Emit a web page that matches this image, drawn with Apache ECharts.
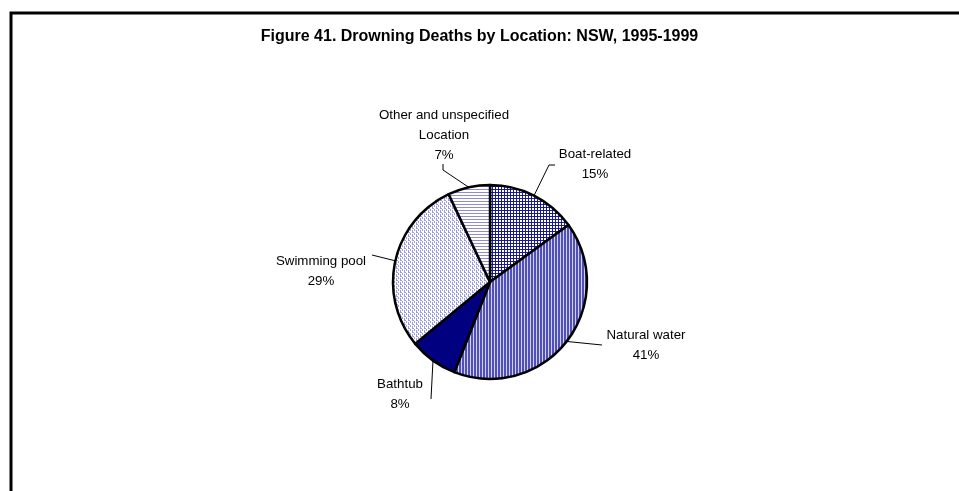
<!DOCTYPE html>
<html>
<head>
<meta charset="utf-8">
<script src="https://cdn.jsdelivr.net/npm/echarts@6/dist/echarts.min.js"></script>
<style>
  html, body { margin: 0; padding: 0; background: #fff; }
  #chart { width: 959px; height: 491px; }
</style>
</head>
<body>
<div id="chart"></div>
<script>
var titleText = 'Figure 41. Drowning Deaths by Location: NSW, 1995-1999';
var locations = ['Boat-related', 'Natural water', 'Bathtub', 'Swimming pool', 'Other and unspecified\nLocation'];
var shares = [15, 41, 8, 29, 7];

// where each label block sits and how its leader bends (pixels)
var labelSpots = [
    { x: 595, y: 164, bend: [549, 165], end: [555, 165] },
    { x: 646, y: 345, bend: [602, 345], end: [602, 345] },
    { x: 400, y: 394, bend: [431, 399], end: [431, 399] },
    { x: 321, y: 271, bend: [372, 255], end: [372, 255] },
    { x: 444, y: 135, bend: [443, 170], end: [443, 164] }
];

// little repeating tiles to imitate the old Excel fill patterns
function makeTile(w, h, draw) {
    var c = document.createElement('canvas');
    c.width = w; c.height = h;
    var ctx = c.getContext('2d');
    draw(ctx);
    return c;
}
function px(ctx, col, x, y, w, h) {
    ctx.fillStyle = col;
    ctx.fillRect(x, y, w || 1, h || 1);
}

var fills = [
    // boat: navy grid with white holes
    makeTile(3, 3, function (ctx) {
        px(ctx, '#fff', 0, 0, 3, 3);
        px(ctx, '#1a1a90', 0, 0, 3, 1);
        px(ctx, '#1a1a90', 0, 0, 1, 3);
    }),
    // natural water: vertical stripes
    makeTile(3, 1, function (ctx) {
        px(ctx, '#5050b8', 0, 0, 2, 1);
        px(ctx, '#d0d0f0', 2, 0);
    }),
    '#000080',
    // swimming pool: light weave
    makeTile(4, 4, function (ctx) {
        px(ctx, '#fff', 0, 0, 4, 4);
        px(ctx, '#9a9ae0', 0, 0, 2, 1);
        px(ctx, '#9a9ae0', 2, 1, 1, 2);
        px(ctx, '#9a9ae0', 0, 2, 1, 2);
    }),
    // other: horizontal thin lines
    makeTile(1, 3, function (ctx) {
        px(ctx, '#fff', 0, 0, 1, 3);
        px(ctx, '#8c8cd8', 0, 0);
    })
];

var pieData = locations.map(function (name, i) {
    var img = fills[i];
    return {
        name: name,
        value: shares[i],
        itemStyle: { color: typeof img === 'string' ? img : { image: img, repeat: 'repeat' } }
    };
});

var chart = echarts.init(document.getElementById('chart'), null, { renderer: 'canvas' });
chart.setOption({
    animation: false,
    title: {
        text: titleText,
        left: 'center',
        top: 24,
        textStyle: { fontFamily: 'Liberation Sans', fontWeight: 'bold', fontSize: 16, color: '#000' }
    },
    graphic: [{
        type: 'rect',
        shape: { x: 11, y: 13, width: 980, height: 520 },
        style: { fill: null, stroke: '#000', lineWidth: 3 }
    }],
    series: [{
        type: 'pie',
        center: [490, 282],
        radius: 97,
        startAngle: 90,
        clockwise: true,
        itemStyle: { borderColor: '#000', borderWidth: 2.5 },
        label: {
            formatter: '{b}\n{c}%',
            fontFamily: 'Liberation Sans',
            fontSize: 13.3,
            lineHeight: 20,
            color: '#000',
            align: 'center'
        },
        labelLine: { length: 10, length2: 10, lineStyle: { color: '#000', width: 1 } },
        labelLayout: function (p) {
            var s = labelSpots[p.dataIndex];
            var start = p.labelLinePoints ? p.labelLinePoints[0] : s.bend;
            return {
                x: s.x,
                y: s.y,
                align: 'center',
                verticalAlign: 'middle',
                labelLinePoints: [start, s.bend, s.end]
            };
        },
        emphasis: { disabled: true },
        data: pieData
    }]
});
</script>
</body>
</html>
